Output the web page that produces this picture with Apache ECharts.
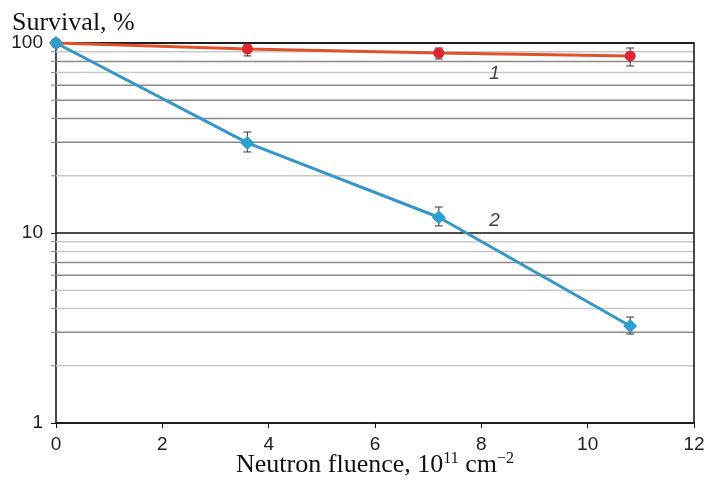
<!DOCTYPE html>
<html>
<head>
<meta charset="utf-8">
<script src="https://cdn.jsdelivr.net/npm/echarts@6/dist/echarts.min.js"></script>
<style>
  html, body { margin: 0; padding: 0; background: #fff; }
  #chart { width: 704px; height: 481px; }
</style>
</head>
<body>
<div id="chart"></div>
<script>
// fluence, 10^11 cm^-2
var fluence = [0, 3.6, 7.2, 10.8];
// curve 1 (red) survival, %
var surv1 = [100, 93, 88.6, 85.5];
var err1Lo = [100, 85.5, 82.4, 75.7];
var err1Hi = [100, 97.6, 94.1, 94.1];
// curve 2 (blue) survival, %
var surv2 = [100, 29.8, 12.1, 3.24];
var err2Lo = [100, 26.7, 10.9, 2.94];
var err2Hi = [100, 34.0, 13.7, 3.61];
var xTicks = [0, 2, 4, 6, 8, 10, 12];
// minor grid lines, dark = 1 / light = 0
var minorVals = [2, 3, 4, 5, 6, 7, 8, 9, 20, 30, 40, 50, 60, 70, 80, 90];
var minorDark = [0, 1, 0, 0, 1, 1, 0, 0, 0, 1, 1, 1, 1, 0, 1, 0];
var curveLabels = [[8.25, 69, '1'], [8.25, 11.6, '2']];

var chart = echarts.init(document.getElementById('chart'));

function pairs(xs, ys) {
  return xs.map(function (x, i) { return [x, ys[i]]; });
}

function errData(lo, hi) {
  return fluence.map(function (x, i) { return [x, lo[i], hi[i]]; }).slice(1);
}

function errBar(params, api) {
  var x = api.value(0);
  var a = api.coord([x, api.value(1)]);
  var b = api.coord([x, api.value(2)]);
  var w = 4;
  var st = { stroke: '#333', lineWidth: 1 };
  return {
    type: 'group',
    children: [
      { type: 'line', shape: { x1: a[0], y1: a[1], x2: b[0], y2: b[1] }, style: st },
      { type: 'line', shape: { x1: a[0] - w, y1: a[1], x2: a[0] + w, y2: a[1] }, style: st },
      { type: 'line', shape: { x1: b[0] - w, y1: b[1], x2: b[0] + w, y2: b[1] }, style: st }
    ]
  };
}

var option = {
  animation: false,
  title: {
    text: 'Survival, %',
    left: 7,
    top: 5,
    textStyle: { fontFamily: 'Liberation Serif', fontSize: 26, fontWeight: 'normal', color: '#111' }
  },
  grid: { left: 56, right: 10, top: 43, bottom: 58, containLabel: false, outerBoundsMode: 'none' },
  xAxis: {
    type: 'value',
    min: 0,
    max: 12,
    interval: 2,
    name: 'Neutron fluence, 10{sup|11} cm{sup|\u22122}',
    nameLocation: 'middle',
    nameMoveOverlap: false,
    nameGap: 28,
    nameTextStyle: {
      fontFamily: 'Liberation Serif', fontSize: 26, color: '#111', lineHeight: 28,
      rich: { sup: { fontFamily: 'Liberation Serif', fontSize: 16, verticalAlign: 'top', padding: [0, 0, 12, 0], color: '#111' } }
    },
    axisLine: { onZero: false, lineStyle: { color: '#111', width: 1.5 } },
    axisTick: { show: true, length: 5, inside: false, lineStyle: { color: '#111' } },
    axisLabel: {
      margin: 12, fontFamily: 'Liberation Sans', fontSize: 19, color: '#222',
      formatter: function (v) { return xTicks.indexOf(v) >= 0 ? String(v) : ''; }
    },
    splitLine: { show: false }
  },
  yAxis: {
    type: 'log',
    logBase: 10,
    min: 1,
    max: 100,
    axisLine: { show: true, lineStyle: { color: '#111', width: 1.5 } },
    axisTick: { show: true, length: 5, lineStyle: { color: '#111' } },
    axisLabel: { margin: 13, fontFamily: 'Liberation Sans', fontSize: 19, color: '#222' },
    splitLine: { show: true, lineStyle: { color: '#111', width: 1.5 } }
  },
  series: [
    {
      // minor grid lines and ticks
      type: 'custom',
      silent: true,
      z: 1,
      data: minorVals.map(function (v, i) { return [v, minorDark[i]]; }),
      encode: { y: 0 },
      renderItem: function (params, api) {
        var v = api.value(0);
        var p0 = api.coord([0, v]);
        var p1 = api.coord([12, v]);
        var dark = api.value(1) === 1;
        return {
          type: 'group',
          children: [
            { type: 'line', shape: { x1: p0[0], y1: p0[1], x2: p1[0], y2: p1[1] },
              style: { stroke: dark ? '#8a8a8a' : '#c9c9c9', lineWidth: 1.5 } },
            { type: 'line', shape: { x1: p0[0] - 5, y1: p0[1], x2: p0[0], y2: p0[1] },
              style: { stroke: '#888', lineWidth: 1 } }
          ]
        };
      }
    },
    {
      // right and top frame
      type: 'custom',
      silent: true,
      z: 2,
      data: [[0]],
      renderItem: function (params, api) {
        var tl = api.coord([0, 100]);
        var tr = api.coord([12, 100]);
        var br = api.coord([12, 1]);
        return {
          type: 'polyline',
          shape: { points: [tl, tr, br] },
          style: { stroke: '#111', lineWidth: 1.5, fill: null }
        };
      }
    },
    {
      type: 'custom',
      z: 3,
      data: errData(err1Lo, err1Hi),
      renderItem: errBar
    },
    {
      type: 'custom',
      z: 3,
      data: errData(err2Lo, err2Hi),
      renderItem: errBar
    },
    {
      name: '1',
      type: 'line',
      z: 4,
      data: pairs(fluence, surv1),
      symbol: 'circle',
      symbolSize: 11,
      lineStyle: { color: '#e2522a', width: 3 },
      itemStyle: { color: '#dc2832' }
    },
    {
      name: '2',
      type: 'line',
      z: 5,
      data: pairs(fluence, surv2),
      symbol: 'diamond',
      symbolSize: 14,
      lineStyle: { color: '#3597c6', width: 3 },
      itemStyle: { color: '#2a9fd0' }
    },
    {
      type: 'scatter',
      z: 6,
      silent: true,
      symbolSize: 0,
      data: curveLabels.map(function (d) { return { value: [d[0], d[1]], name: d[2] }; }),
      label: {
        show: true,
        position: 'inside',
        formatter: function (p) { return p.name; },
        fontFamily: 'Liberation Sans',
        fontStyle: 'italic',
        fontSize: 19,
        color: '#111'
      }
    }
  ]
};

chart.setOption(option);
</script>
</body>
</html>
